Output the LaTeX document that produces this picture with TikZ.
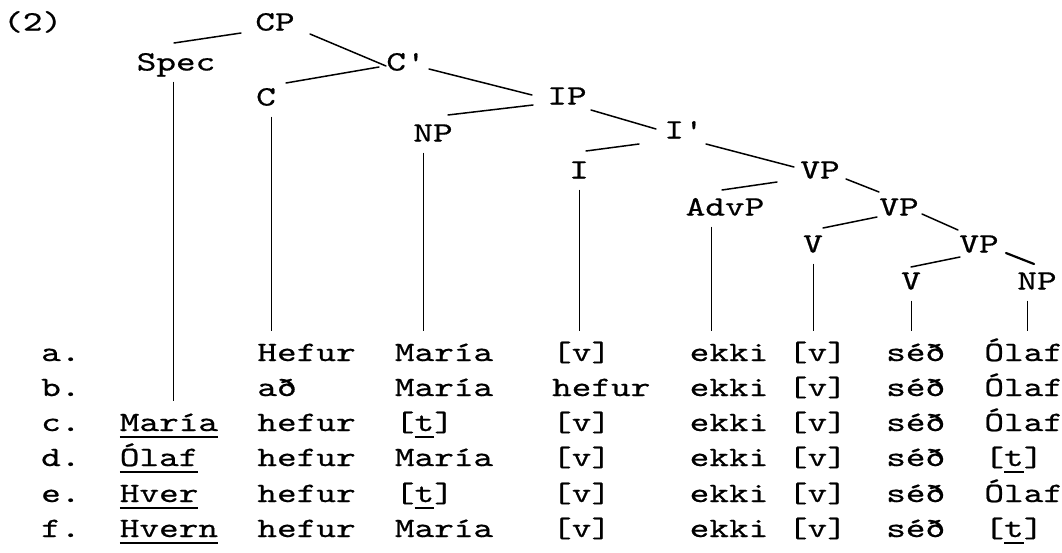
\documentclass[tikz,border=0pt]{standalone}
\usepackage{fontspec}
\setmonofont{lmmono10-regular.otf}[FakeStretch=1.337,FakeBold=0.6]
\usetikzlibrary{calc}
\newcommand\ulw[1]{\setbox0=\hbox{#1}\rlap{\rule[-7pt]{\wd0}{1.8pt}}\box0}
\begin{document}
\begin{tikzpicture}[x=1pt,y=1pt,
  every node/.style={font=\ttfamily\fontsize{28}{34}\selectfont, inner sep=0pt},
  cat/.style={text height=17pt, text depth=0pt, anchor=center},
  word/.style={anchor=base west, text height=19pt, text depth=7pt},
  edge/.style={line width=1.5pt, line cap=round},
  stem/.style={line width=1pt, shorten <=11pt, shorten >=11pt}]
\useasboundingbox (0,0) rectangle (1062,-552);
% tree
\node[cat, anchor=west] (ex) at (3,-22) {(2)};
\node[cat] (CP) at (275,-22) {CP};
\node[cat] (Spec) at (176,-62) {Spec};
\node[cat] (Cb) at (406,-62) {C'};
\node[cat] (C) at (266,-97) {C};
\node[cat] (IP) at (567,-96) {IP};
\node[cat] (NP) at (433,-133) {NP};
\node[cat] (Ib) at (684,-130) {I'};
\node[cat] (I) at (579,-170) {I};
\node[cat] (VP) at (820,-170) {VP};
\node[cat] (AdvP) at (725,-207) {AdvP};
\node[cat] (VPb) at (899,-207) {VP};
\node[cat] (V) at (813,-244) {V};
\node[cat] (VPc) at (979,-244) {VP};
\node[cat] (Vb) at (911,-281) {V};
\node[cat] (NPb) at (1037,-281) {NP};
% rows
\foreach \r/\y in {a/361,b/396,c/431,d/466,e/502,f/537}{
  \node[word] (\r0) at (41,-\y) {\r.};
}
\node[word] (a2) at (257.2,-361) {Hefur};
\node[word] (a3) at (394.7,-361) {María};
\node[word] (a4) at (551.9,-361) {[v]};
\node[word] (a5) at (689.5,-361) {ekki};
\node[word] (a6) at (787.7,-361) {[v]};
\node[word] (a7) at (886,-361) {séð};
\node[word] (a8) at (984.2,-361) {Ólaf};
\node[word] (b2) at (257.2,-396) {að};
\node[word] (b3) at (394.7,-396) {María};
\node[word] (b4) at (551.9,-396) {hefur};
\node[word] (b5) at (689.5,-396) {ekki};
\node[word] (b6) at (787.7,-396) {[v]};
\node[word] (b7) at (886,-396) {séð};
\node[word] (b8) at (984.2,-396) {Ólaf};
\node[word] (c1) at (119.6,-431) {\ulw{María}};
\node[word] (c2) at (257.2,-431) {hefur};
\node[word] (c3) at (394.7,-431) {[\ulw{t}]};
\node[word] (c4) at (551.9,-431) {[v]};
\node[word] (c5) at (689.5,-431) {ekki};
\node[word] (c6) at (787.7,-431) {[v]};
\node[word] (c7) at (886,-431) {séð};
\node[word] (c8) at (984.2,-431) {Ólaf};
\node[word] (d1) at (119.6,-466) {\ulw{Ólaf}};
\node[word] (d2) at (257.2,-466) {hefur};
\node[word] (d3) at (394.7,-466) {María};
\node[word] (d4) at (551.9,-466) {[v]};
\node[word] (d5) at (689.5,-466) {ekki};
\node[word] (d6) at (787.7,-466) {[v]};
\node[word] (d7) at (886,-466) {séð};
\node[word] (d8) at (984.2,-466) {[\ulw{t}]};
\node[word] (e1) at (119.6,-502) {\ulw{Hver}};
\node[word] (e2) at (257.2,-502) {hefur};
\node[word] (e3) at (394.7,-502) {[\ulw{t}]};
\node[word] (e4) at (551.9,-502) {[v]};
\node[word] (e5) at (689.5,-502) {ekki};
\node[word] (e6) at (787.7,-502) {[v]};
\node[word] (e7) at (886,-502) {séð};
\node[word] (e8) at (984.2,-502) {Ólaf};
\node[word] (f1) at (119.6,-537) {\ulw{Hvern}};
\node[word] (f2) at (257.2,-537) {hefur};
\node[word] (f3) at (394.7,-537) {María};
\node[word] (f4) at (551.9,-537) {[v]};
\node[word] (f5) at (689.5,-537) {ekki};
\node[word] (f6) at (787.7,-537) {[v]};
\node[word] (f7) at (886,-537) {séð};
\node[word] (f8) at (984.2,-537) {[\ulw{t}]};
% branches
\draw[edge] ($(CP)+(-34,-11)$) -- ($(Spec)+(-2,19)$);
\draw[edge] ($(CP)+(35,-12)$) -- ($(Cb)+(-20,-4)$);
\draw[edge] ($(Cb)+(-27,-5)$) -- ($(C)+(20,14)$);
\draw[edge] ($(Cb)+(23,-7)$) -- ($(IP)+(-35,1)$);
\draw[edge] ($(IP)+(-34,-9)$) -- ($(NP)+(15,18)$);
\draw[edge] ($(IP)+(24,-14)$) -- ($(Ib)+(-28,1)$);
\draw[edge] ($(Ib)+(-45,-14)$) -- ($(I)+(7,19)$);
\draw[edge] ($(Ib)+(22,-14)$) -- ($(VP)+(-26,3)$);
\draw[edge] ($(VP)+(-43,-12)$) -- ($(AdvP)+(-3,17)$);
\draw[edge] ($(VP)+(26,-9)$) -- ($(VPb)+(-20,15)$);
\draw[edge] ($(VPb)+(-22,-10)$) -- ($(V)+(10,16)$);
\draw[edge] ($(VPb)+(23,-7)$) -- ($(VPc)+(-21,14)$);
\draw[edge] ($(VPc)+(-19,-13)$) -- ($(Vb)+(0,14)$);
\draw[edge, line width=2.2pt] ($(VPc)+(27,-9)$) -- ($(NPb)+(-3,17)$);
% stems
\draw[stem] ([xshift=-3pt]Spec.south) -- ([xshift=-3pt]Spec.south |- c1.north);
\draw[stem] ([xshift=5pt]C.south) -- ([xshift=5pt]C.south |- a2.north);
\draw[stem] ([xshift=-10pt]NP.south) -- ([xshift=-10pt]NP.south |- a3.north);
\draw[stem] (I.south) -- (I.south |- a4.north);
\draw[stem] ([xshift=-14pt]AdvP.south) -- ([xshift=-14pt]AdvP.south |- a5.north);
\draw[stem] (V.south) -- (V.south |- a6.north);
\draw[stem] (Vb.south) -- (Vb.south |- a7.north);
\draw[stem] ([xshift=-10pt]NPb.south) -- ([xshift=-10pt]NPb.south |- a8.north);
\end{tikzpicture}
\end{document}
